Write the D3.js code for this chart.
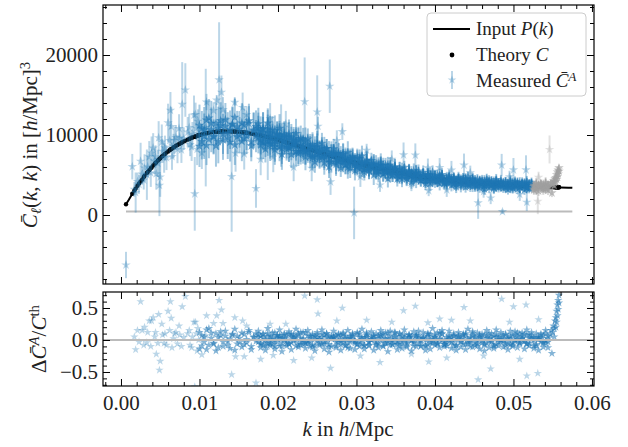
<!DOCTYPE html>
<html><head><meta charset="utf-8">
<script src="https://cdn.jsdelivr.net/npm/d3@7"></script>
<style>body{margin:0;background:#fff}svg text{font-family:"Liberation Serif","DejaVu Serif","Noto Serif","Tinos","Times New Roman","FreeSerif",serif !important;fill:#222}</style>
</head><body><svg id="c" width="628" height="447"></svg>
<script>
// ---------- DATA ----------
const curveK = [0.00064,0.001,0.0015,0.002,0.0025,0.003,0.0035,0.004,0.0045,0.005,0.006,0.007,0.008,0.009,0.010,0.011,0.012,0.013,0.014,0.015,0.016,0.017,0.018,0.019,0.020,0.021,0.022,0.023,0.024,0.025,0.026,0.027,0.028,0.029,0.030,0.031,0.032,0.033,0.034,0.035,0.036,0.037,0.038,0.039,0.040,0.041,0.042,0.043,0.044,0.045,0.046,0.047,0.048,0.049,0.050,0.051,0.052,0.053,0.054,0.055,0.056,0.057,0.0575];
const curveP = [1350,1900,2750,3500,4200,4900,5500,6100,6600,7100,7950,8650,9200,9650,10000,10250,10400,10450,10450,10400,10280,10100,9900,9650,9400,9100,8800,8500,8200,7900,7600,7300,7000,6750,6500,6250,6000,5770,5550,5350,5150,4970,4800,4650,4520,4400,4290,4190,4100,4020,3950,3880,3820,3760,3710,3660,3610,3570,3530,3490,3450,3420,3400];
const levelK = [0.00064,0.0575];
const levelV = [450,450];

const lowK   = [0.00064,0.00144,0.0017,0.00187,0.0021,0.0023,0.0025,0.0027,0.0029,0.0030,0.0033,0.0034,0.0036,0.0038,0.0039,0.0041,0.0043,0.0044,0.0045,0.0047,0.0048,0.0049,0.0050,0.0052,0.0053,0.0055,0.0056,0.0058,0.0060,0.0062,0.0063,0.0064,0.0065,0.0067,0.0068,0.0070,0.0072,0.0074,0.0075,0.0077,0.0078,0.0080,0.0082,0.0085,0.0087,0.0088,0.0090,0.0091,0.0093,0.0094,0.0095,0.0096,0.0097,0.0098,0.0099];
const lowTh  = [1350,2650,3050,3300,3650,3950,4200,4450,4750,4900,5250,5380,5600,5850,5950,6200,6400,6500,6600,6800,6900,7000,7100,7300,7380,7550,7630,7800,7950,8100,8180,8250,8300,8450,8500,8650,8750,8870,8930,9040,9100,9200,9300,9420,9510,9560,9650,9690,9760,9790,9820,9860,9900,9930,9970];
const lowDev = [-5.63,1.28,0.05,-0.15,0.15,-0.03,0.6,0.15,-0.08,0.2,-0.04,0.12,0.3,-0.1,0.3,0.35,0.05,0.12,-0.22,-0.05,0.4,-0.47,-0.33,0.25,0.08,-0.05,0.1,-0.08,0.45,0.15,0.6,0.34,-0.12,0.02,0.1,0.12,-0.06,0.22,0.08,-0.1,0.52,0.04,0.68,0.1,0.15,-0.08,-0.12,0.05,0.28,-0.73,0.28,0.1,-0.17,0.18,0.0];
const lowErr = [1.22,0.6,0.3,0.76,0.3,0.3,0.55,0.3,0.25,0.35,0.6,0.25,0.35,0.3,0.35,0.3,0.25,0.22,0.3,0.25,0.3,0.55,0.35,0.3,0.2,0.25,0.2,0.2,0.3,0.2,0.28,0.3,0.2,0.18,0.2,0.18,0.2,0.2,0.15,0.18,0.58,0.15,0.36,0.2,0.18,0.15,0.18,0.15,0.25,0.47,0.15,0.15,0.2,0.15,0.12];

const bandK = [0.0100,0.0103,0.0106,0.0109,0.0112,0.0115,0.0118,0.0121,0.0124,0.0127,
0.0130,0.0133,0.0136,0.0139,0.0142,0.0145,0.0148,0.0151,0.0154,0.0157,
0.0160,0.0163,0.0166,0.0169,0.0172,0.0175,0.0178,0.0181,0.0184,0.0187,
0.0190,0.0193,0.0196,0.0199,0.0202,0.0205,0.0208,0.0211,0.0214,0.0217,
0.0220,0.0223,0.0226,0.0229,0.0232,0.0235,0.0238,0.0241,0.0244,0.0247,
0.0250,0.0253,0.0256,0.0259,0.0262,0.0265,0.0268,0.0271,0.0274,0.0277,
0.0280,0.0283,0.0286,0.0289,0.0292,0.0295,0.0298,0.0301,0.0304,0.0307,
0.0310,0.0313,0.0316,0.0319,0.0322,0.0325,0.0328,0.0331,0.0334,0.0337,
0.0340,0.0343,0.0346,0.0349,0.0352,0.0355,0.0358,0.0361,0.0364,0.0367,
0.0370,0.0373,0.0376,0.0379,0.0382,0.0385,0.0388,0.0391,0.0394,0.0397,
0.0400,0.0403,0.0406,0.0409,0.0412,0.0415,0.0418,0.0421,0.0424,0.0427,
0.0430,0.0433,0.0436,0.0439,0.0442,0.0445,0.0448,0.0451,0.0454,0.0457,
0.0460,0.0463,0.0466,0.0469,0.0472,0.0475,0.0478,0.0481,0.0484,0.0487,
0.0490,0.0493,0.0496,0.0499,0.0502,0.0505,0.0508,0.0511,0.0514,0.0517,
0.0520,0.0523,0.0526,0.0529,0.0532,0.0535,0.0538,0.0541,0.0544];
const bandTh = [10000,10080,10150,10230,10280,10330,10370,10410,10420,10440,
10450,10450,10450,10450,10440,10430,10410,10390,10350,10320,
10280,10230,10170,10120,10060,10000,9940,9880,9800,9730,
9650,9580,9500,9430,9340,9250,9160,9070,8980,8890,
8800,8710,8620,8530,8440,8350,8260,8170,8080,7990,
7900,7810,7720,7630,7540,7450,7360,7270,7180,7090,
7000,6930,6850,6780,6700,6630,6550,6480,6400,6330,
6250,6180,6100,6030,5950,5890,5820,5750,5680,5620,
5550,5490,5430,5370,5310,5250,5190,5130,5080,5030,
4970,4920,4870,4820,4770,4730,4680,4640,4590,4560,
4520,4480,4450,4410,4380,4350,4310,4280,4250,4220,
4190,4160,4140,4110,4080,4060,4040,4000,3990,3970,
3950,3930,3910,3890,3870,3850,3830,3810,3800,3780,
3760,3750,3730,3710,3700,3680,3670,3650,3640,3620,
3610,3600,3580,3570,3560,3550,3540,3520,3510];
const bandDevA = [12,-9,5,-15,18,3,-6,10,-12,7,-3,14,-8,2,9,-16,6,-4,11,-7,1,15,-10,4,-2,
8,-5,3,-9,6,0,-7,11,-3,4,-10,2,7,-6,9,-1,5,-8,3,12,-4,-2,6,-11,1,8,-6,4,-3,10,
-7,2,5,-9,0,7,-4,3,-12,6,1,-5,9,-2,4,-8,11,-3,0,6,
-6,3,8,-10,2,-4,7,-1,5,-7,10,-3,1,-9,4,6,-2,8,-5,0,
3,-8,9,-4,2,5,-6,11,-1,-7,4,1,-3,7,-9,6,-2,3,8,-5,
0,10,-4,-6,5,2,-8,7,-1,4,-10,9,-3,6,1,-5,3,-7,8,-2,
5,-4,2,9,-6,3,7,-1,-9,4,2,-5,10,-3];
const bandDevB = [-14,7,-3,16,-8,11,-5,-17,4,13,-10,6,-2,-13,8,17,-6,3,-11,9,-4,12,-15,5,10,
-3,6,-8,1,10,-5,4,-2,7,-9,3,0,-6,9,-4,5,-1,8,-7,2,
11,-5,-3,6,-9,4,1,-6,8,-2,5,-10,3,7,-4,0,9,-8,2,-3,
6,-1,-7,10,-5,3,4,-9,1,7,-3,-6,8,2,-4,11,-8,0,5,-2,
-9,6,3,-5,8,-1,-4,7,2,-10,5,0,-7,9,-3,4,-6,1,10,-2,
-5,7,3,-8,0,6,-3,9,-7,2,4,-11,5,-1,8,-4,-6,3,10,-2,
-8,5,1,-3,7,-9,2,6,-4,0,11,-6,3,-2,
8,-5,1,4,-7,2,9,-3,-1,6];
const bandDevC = [null,null,null,null,null,null,null,null,null,null,null,null,null,null,null,null,null,null,null,null,null,null,null,null,null,
4,-7,9,-2,-5,6,1,-10,3,7,-4,8,-1,-6,5,2,-9,10,-3,0,
-5,7,3,-8,6,-2,1,9,-6,4,-11,2,5,-3,8,-7,0,6,-4,3,
10,-2,-6,4,1,-9,7,-3,5,2,-8,6,-1,9,-5,3,0,-7,11,-4,
2,-6,8,-3,5,-1,-9,4,7,-2,3,-10,6,1,-5,8,-4,2,9,-7,
0,5,-3,6,-8,4,1,-6,10,-2,-4,7,3,-9,5,-1,8,-5,2,-3,
6,-7,4,0,-2,9,-5,3,-8,7,1,-4,
5,-2,-6,8,3,-9,4,1,-3,7,-5,2];
const bandDevD = [null,null,null,null,null,null,null,null,null,null,null,null,null,null,null,null,null,null,null,null,null,null,null,null,null,
14,-12,9,-16,18,-8,11,-14,7,16,-18,10,-9,13,-15,8,17,-11,12,-7,
-13,15,-10,9,-17,12,-8,16,-14,10,-19,7,14,-12,9,-16,11,-9,15,-13,
8,-15,12,-10,17,-14,9,-8,13,-16,10,-12,15,-9,11,-18,14,-7,12,-15,
9,-13,16,-11,8,-17,13,-10,14,-9,12,-16,10,-14,18,-8,11,-12,15,-10,
-9,14,-13,10,-16,12,-11,8,-15,17,-10,13,-8,11,-14,9,-17,15,-12,10,
-13,16,-9,12,-11,8,-15,14,-10,13,-12,9,
11,-14,16,-9,12,-13,10,-16,8,-11,15,-12];
const bandErrPct = [26,22,28,24,23,27,21,25,26,22,24,20,25,23,21,24,19,22,24,20,22,21,19,22,20,
20,18,21,17,19,22,18,20,17,19,21,18,16,20,19,17,21,18,19,17,
20,16,18,19,17,21,18,17,20,16,19,18,17,20,18,16,19,17,21,18,
17,19,16,18,20,17,19,18,16,21,17,18,19,17,16,20,18,17,19,18,
17,20,16,18,19,17,18,21,17,16,19,18,17,20,18,17,16,19,18,17,
20,17,18,16,19,17,21,18,17,16,19,18,20,17,16,18,19,17,18,16,
19,18,17,20,16,18,17,19,18,17,16,20,
18,17,19,16,18,17,20,17,16,18,19,17];

const outK   = [0.0108,0.0109,0.0103,0.0118,0.0122,0.0125,0.0128,0.0130,0.0141,0.0145,0.0146,0.0157,0.0160,0.0172,0.0187,0.0190,0.0194,0.0204,0.0220,0.0234,0.0250,0.0251,0.0266,0.0267,0.0282,0.0297,0.0313,0.0330,0.0360,0.0375,0.0391,0.0392,0.0406,0.0421,0.0437,0.0455,0.0471,0.0485,0.0486,0.0500,0.0516,0.0517,0.0531,0.0532,0.0546,
0.0155,0.0178,0.0210,0.0243,0.0275,0.0305,0.0345,0.0370,0.0415,0.0445,0.0462,0.0495,0.0508];
const outTh  = [10210,10230,10080,10370,10410,10430,10440,10450,10450,10430,10420,10320,10280,10060,9730,9650,9550,9280,8800,8380,7900,7870,7420,7390,6950,6570,6180,5780,5150,4890,4640,4620,4450,4280,4130,3990,3880,3800,3790,3710,3640,3620,3560,3560,3500,
10340,9940,9100,8110,7150,6380,5450,4970,4350,4060,3940,3740,3670];
const outDev = [0.07,0.38,-0.23,0.26,0.38,0.62,0.47,0.26,-0.54,0.35,-0.26,-0.26,0.22,-0.67,-0.1,0.25,-0.24,0.07,-0.32,0.69,0.63,0.41,1.17,-0.44,0.5,-0.96,0.31,-0.35,0.46,0.53,0.27,-0.34,0.33,0.31,0.51,-0.62,-0.45,0.64,-0.89,0.52,0.55,-0.56,-0.52,0.32,1.34,
0.3,-0.3,0.25,-0.28,0.3,-0.25,0.28,-0.22,-0.28,0.3,-0.25,0.28,-0.3];
const outErr = [0.72,0.1,0.2,0.1,0.06,0.69,0.2,0.15,0.66,0.04,0.22,0.19,0.1,0.24,0.45,0.2,0.2,0.42,0.2,0.66,0.58,0.15,0.45,0.22,0.15,0.5,0.13,0.15,0.3,0.3,0.25,0.15,0.27,0.27,0.35,0.5,0.2,0.37,0.07,0.4,0.5,0.3,0.45,0.2,0.5,
0.18,0.2,0.18,0.2,0.18,0.2,0.2,0.18,0.2,0.22,0.2,0.2,0.22];

const upK   = [0.0547,0.0548,0.0549,0.0550,0.0551,0.0552,0.0553,0.0554,0.0555,0.0555,0.0556,0.0556,0.0557,0.0557,0.0558,0.0558,0.0554,0.0552];
const upTh  = [3500,3500,3495,3490,3487,3484,3480,3477,3474,3474,3470,3470,3467,3467,3464,3464,3477,3484];
const upDev = [0.08,0.15,-0.21,0.12,0.22,0.18,0.30,0.35,0.45,0.28,0.55,0.38,0.62,0.48,0.70,0.58,0.2,0.05];
const upErr = [0.12,0.12,0.15,0.1,0.12,0.1,0.12,0.12,0.12,0.1,0.12,0.1,0.12,0.12,0.12,0.1,0.1,0.1];

const greyAboveK = 0.0525;
const xTicks = [0,0.01,0.02,0.03,0.04,0.05,0.06];
const yTopTicks = [0,10000,20000];
const yBotTicks = [-0.5,0,0.5];

// ---------- BUILD ----------
const pts = [];
function addGroup(ks, ths, devs, errs, dense){
  for(let i=0;i<ks.length;i++){
    if(devs[i]==null || ths[i]==null || errs[i]==null) continue;
    pts.push({k:ks[i], th:ths[i], dev:devs[i], err:errs[i], dense:!!dense});
  }
}
addGroup(lowK, lowTh, lowDev, lowErr);
const pct = a => a.map(d => d==null ? null : d/100);
addGroup(bandK, bandTh, pct(bandDevA), pct(bandErrPct), 1);
addGroup(bandK, bandTh, pct(bandDevB), pct(bandErrPct), 1);
addGroup(bandK, bandTh, pct(bandDevC), pct(bandErrPct), 1);
addGroup(bandK, bandTh, pct(bandDevD), pct(bandErrPct), 1);
addGroup(outK, outTh, outDev, outErr);
addGroup(upK, upTh, upDev, upErr, 1);
pts.forEach(p => { p.v = p.th*(1+p.dev); p.e = p.th*p.err; });

const theory = [];
[[lowK,lowTh],[bandK,bandTh],[outK,outTh],[upK,upTh]].forEach(([ks,ts]) => {
  for(let i=0;i<Math.min(ks.length,ts.length);i++) theory.push([ks[i],ts[i]]);
});

const svg = d3.select("#c");
const FONT = '"Liberation Serif","DejaVu Serif","Noto Serif","Tinos","Times New Roman","FreeSerif",serif';
const L=103,R=594,T1=5,B1=284,T2=292,B2=386;
const x = d3.scaleLinear().domain([-0.00229,0.06026]).range([L,R]);
const yT = d3.scaleLinear().domain([-8625,26250]).range([B1,T1]);
const yB = d3.scaleLinear().domain([-0.719,0.75]).range([B2,T2]);
const BLUE="#1f77b4", GREY="#a0a0a0";

const defs = svg.append("defs");
defs.append("clipPath").attr("id","clipT").append("rect").attr("x",L).attr("y",T1).attr("width",R-L).attr("height",B1-T1);
defs.append("clipPath").attr("id","clipB").append("rect").attr("x",L).attr("y",T2).attr("width",R-L).attr("height",B2-T2);

const star = d3.symbol().type(d3.symbolStar);

// top panel
const gt = svg.append("g").attr("clip-path","url(#clipT)");
gt.append("line").attr("x1",x(levelK[0])).attr("x2",x(levelK[1])).attr("y1",yT(levelV[0])).attr("y2",yT(levelV[1]))
  .attr("stroke","#bbbbbb").attr("stroke-width",2);
gt.append("path").datum(d3.zip(curveK,curveP)).attr("fill","none").attr("stroke","#000").attr("stroke-width",2)
  .attr("d", d3.line().x(d=>x(d[0])).y(d=>yT(d[1])));
gt.selectAll("circle.th").data(theory).join("circle").attr("class","th")
  .attr("cx",d=>x(d[0])).attr("cy",d=>yT(d[1])).attr("r",2.2).attr("fill","#000");

function drawMeas(data, color){
  const g = gt.append("g");
  g.selectAll("line").data(data).join("line")
    .attr("x1",d=>x(d.k)).attr("x2",d=>x(d.k)).attr("y1",d=>yT(d.v-d.e)).attr("y2",d=>yT(d.v+d.e))
    .attr("stroke",color).attr("stroke-opacity",d=>d.dense?0.4:0.3).attr("stroke-width",2);
  g.selectAll("path").data(data).join("path").attr("d",star.size(28)())
    .attr("transform",d=>`translate(${x(d.k)},${yT(d.v)})`).attr("fill",color).attr("fill-opacity",d=>d.dense?0.65:0.3);
}
drawMeas(pts.filter(p=>p.k<=greyAboveK), BLUE);
drawMeas(pts.filter(p=>p.k>greyAboveK), GREY);

// bottom panel
const gb = svg.append("g").attr("clip-path","url(#clipB)");
gb.selectAll("path").data(pts.filter(p=>p.k>0.0016)).join("path").attr("d",star.size(22)())
  .attr("transform",d=>`translate(${x(d.k)},${yB(d.dev)})`).attr("fill",BLUE).attr("fill-opacity",d=>d.dense?0.55:0.3);
gb.append("line").attr("x1",L).attr("x2",R).attr("y1",yB(0)).attr("y2",yB(0)).attr("stroke","#bbbbbb").attr("stroke-width",2);

// axes
const xMinor = d3.range(-0.002,0.0605,0.002).filter(v=>Math.abs(v*100-Math.round(v*100))>1e-6);
const yTopMinor = d3.range(-8000,26001,2000).filter(v=>v%10000!==0);
const yBotMinor = d3.range(-7,8,1).filter(v=>v%5!==0).map(v=>v/10);
const fs = 21;
function ticks(axisFn, scale, vals, size, labels, fmt, tr, pad){
  const a = axisFn(scale).tickValues(vals).tickSizeInner(-size).tickSizeOuter(0).tickPadding(pad||6)
    .tickFormat(labels ? fmt : () => "");
  const g = svg.append("g").attr("transform",tr).call(a);
  g.attr("font-family",FONT).attr("font-size",fs);
  g.select(".domain").remove();
  g.selectAll("line").attr("stroke","#000").attr("stroke-width",1);
  g.selectAll("text").style("font-family",FONT).attr("font-size",fs).attr("fill","#222");
  if(!labels) g.selectAll("text").remove();
  return g;
}
const fx = d3.format(".2f");
ticks(d3.axisBottom,x,xTicks,7,false,null,`translate(0,${B1})`);
ticks(d3.axisBottom,x,xMinor,4,false,null,`translate(0,${B1})`);
ticks(d3.axisTop,x,xTicks,7,false,null,`translate(0,${T1})`);
ticks(d3.axisTop,x,xMinor,4,false,null,`translate(0,${T1})`);
ticks(d3.axisLeft,yT,yTopTicks,7,true,d3.format("d"),`translate(${L},0)`,5);
ticks(d3.axisLeft,yT,yTopMinor,4,false,null,`translate(${L},0)`);
ticks(d3.axisRight,yT,yTopTicks,7,false,null,`translate(${R},0)`);
ticks(d3.axisRight,yT,yTopMinor,4,false,null,`translate(${R},0)`);
ticks(d3.axisBottom,x,xTicks,7,true,fx,`translate(0,${B2})`,9);
ticks(d3.axisBottom,x,xMinor,4,false,null,`translate(0,${B2})`);
ticks(d3.axisTop,x,xTicks,7,false,null,`translate(0,${T2})`);
ticks(d3.axisTop,x,xMinor,4,false,null,`translate(0,${T2})`);
ticks(d3.axisLeft,yB,yBotTicks,7,true,d3.format(".1f"),`translate(${L},0)`,5);
ticks(d3.axisLeft,yB,yBotMinor,4,false,null,`translate(${L},0)`);
ticks(d3.axisRight,yB,yBotTicks,7,false,null,`translate(${R},0)`);
ticks(d3.axisRight,yB,yBotMinor,4,false,null,`translate(${R},0)`);

svg.append("rect").attr("x",L).attr("y",T1).attr("width",R-L).attr("height",B1-T1).attr("fill","none").attr("stroke","#000").attr("stroke-width",1.2);
svg.append("rect").attr("x",L).attr("y",T2).attr("width",R-L).attr("height",B2-T2).attr("fill","none").attr("stroke","#000").attr("stroke-width",1.2);

function rich(sel, segs, size){
  sel.style("font-family",FONT);
  segs.forEach(s=>{
    const t = sel.append("tspan").text(s.t);
    if(s.it) t.attr("font-style","italic");
    if(s.sub) t.attr("baseline-shift","-25%").attr("font-size",size*0.7);
    if(s.sup) t.attr("baseline-shift","45%").attr("font-size",size*0.7);
  });
}
const lt = svg.append("text").attr("transform","translate(37,145) rotate(-90)").attr("text-anchor","middle").attr("font-size",fs);
rich(lt,[{t:"C\u0304",it:1},{t:"\u2113",it:1,sub:1},{t:"("},{t:"k",it:1},{t:", "},{t:"k",it:1},{t:") in ["},{t:"h",it:1},{t:"/Mpc]"},{t:"3",sup:1}],fs);
const lb = svg.append("text").attr("transform","translate(46,339) rotate(-90)").attr("text-anchor","middle").attr("font-size",fs);
rich(lb,[{t:"\u0394"},{t:"C\u0304",it:1},{t:"A",it:1,sup:1},{t:"/"},{t:"C",it:1},{t:"th",sup:1}],fs);
const xl = svg.append("text").attr("x",348).attr("y",436).attr("text-anchor","middle").attr("font-size",fs);
rich(xl,[{t:"k",it:1},{t:" in "},{t:"h",it:1},{t:"/Mpc"}],fs);

// legend
const lg = svg.append("g");
lg.append("rect").attr("x",427).attr("y",13).attr("width",159).attr("height",83).attr("rx",4)
  .attr("fill","#fff").attr("fill-opacity",0.8).attr("stroke","#cccccc").attr("stroke-width",1);
const lfs = 19;
lg.append("line").attr("x1",433).attr("x2",470).attr("y1",29).attr("y2",29).attr("stroke","#000").attr("stroke-width",2);
lg.append("circle").attr("cx",452).attr("cy",55).attr("r",2.4).attr("fill","#000");
lg.append("line").attr("x1",452).attr("x2",452).attr("y1",71).attr("y2",89).attr("stroke",BLUE).attr("stroke-opacity",0.3).attr("stroke-width",2);
lg.append("path").attr("d",star.size(24)()).attr("transform","translate(452,80)").attr("fill",BLUE).attr("fill-opacity",0.3);
const t1 = lg.append("text").attr("x",476).attr("y",35).attr("font-size",lfs);
rich(t1,[{t:"Input "},{t:"P",it:1},{t:"("},{t:"k",it:1},{t:")"}],lfs);
const t2 = lg.append("text").attr("x",476).attr("y",61).attr("font-size",lfs);
rich(t2,[{t:"Theory "},{t:"C",it:1}],lfs);
const t3 = lg.append("text").attr("x",476).attr("y",87).attr("font-size",lfs);
rich(t3,[{t:"Measured "},{t:"C\u0304",it:1},{t:"A",it:1,sup:1}],lfs);
</script></body></html>
